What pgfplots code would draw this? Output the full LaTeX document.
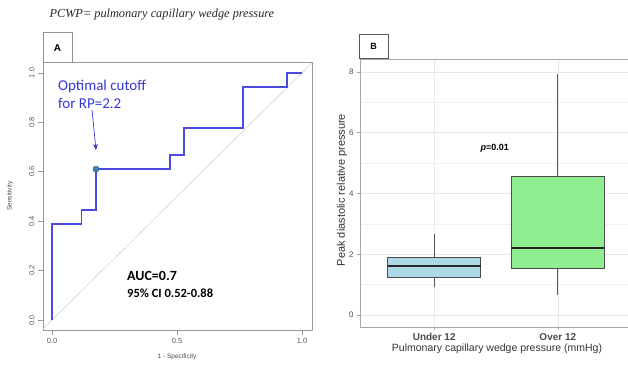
\documentclass[border=0pt]{standalone}
\usepackage{pgfplots}
\pgfplotsset{compat=1.18}
\usepgfplotslibrary{statistics}
\usetikzlibrary{arrows.meta}
\usepackage{fontspec}
\setmainfont{Liberation Sans}
\newfontfamily\calfont{Carlito}
\newfontfamily\timfont{Liberation Serif}
\definecolor{roc}{RGB}{75,75,225}
\definecolor{annot}{RGB}{55,55,215}
\definecolor{ptfill}{RGB}{70,130,180}
\definecolor{lblue}{RGB}{173,216,230}
\definecolor{lgreen}{RGB}{144,238,144}
\definecolor{gridc}{RGB}{232,232,232}
\begin{document}
\begin{tikzpicture}[x=1pt,y=1pt]
\path[use as bounding box] (0,0) rectangle (628,364);
\clip (0,0) rectangle (628,364);
% title
\node[anchor=west,font=\timfont\itshape\fontsize{12.3}{14}\selectfont,text=black!85] at (46,349) {PCWP= pulmonary capillary wedge pressure};
% Panel A
\begin{axis}[at={(43pt,34pt)},anchor=south west,scale only axis,width=269pt,height=267pt,
  xmin=-0.036,xmax=1.04,ymin=-0.04,ymax=1.04,
  xtick={0,0.5,1},xticklabels={0.0,0.5,1.0},
  ytick={0,0.2,0.4,0.6,0.8,1},yticklabels={0.0,0.2,0.4,0.6,0.8,1.0},
  xtick pos=bottom,ytick pos=left,tick align=outside,major tick length=5pt,
  axis line style={gray!80,line width=1pt},
  every tick/.style={gray!80,line width=0.6pt},
  tick label style={font=\fontsize{7.5}{8}\selectfont,text=black!65},
  yticklabel style={rotate=90,anchor=south},
  /pgf/number format/assume math mode=true,
  clip=true]
\addplot[gray!35,line width=0.6pt] coordinates {(-0.05,-0.05) (1.05,1.05)};
\addplot[roc,line width=1.7pt] coordinates {
(0,0) (0,0.389) (0.118,0.389) (0.118,0.444) (0.176,0.444) (0.176,0.611)
(0.471,0.611) (0.471,0.667) (0.529,0.667) (0.529,0.778) (0.765,0.778) (0.765,0.944)
(0.941,0.944) (0.941,1) (1,1)};
\addplot[only marks,mark=*,mark size=3pt,mark options={fill=ptfill,draw=ptfill!70!black,line width=0.5pt}] coordinates {(0.176,0.611)};
\end{axis}
\draw[gray!85,line width=1pt] (43,301) rectangle (72,331);
\node[font=\bfseries\fontsize{10}{11}\selectfont] at (57.5,316) {A};
\node[anchor=west,align=left,font=\calfont\fontsize{15}{18}\selectfont,text=annot,inner sep=0pt] at (58,270) {Optimal cutoff\\for RP=2.2};
\draw[annot,line width=0.7pt,-{Stealth[length=6pt,width=5pt]}] (92,254) -- (96,214);
\node[anchor=west,font=\calfont\bfseries\fontsize{14}{15}\selectfont,inner sep=0pt] at (127,88) {AUC=0.7};
\node[anchor=west,font=\calfont\bfseries\fontsize{12.5}{13}\selectfont,inner sep=0pt] at (127,71) {95\% CI 0.52-0.88};
\node[rotate=90,font=\fontsize{6.5}{7}\selectfont,text=black!70] at (10,168) {Sensitivity};
\node[font=\fontsize{6.5}{7}\selectfont,text=black!70] at (177,7) {1 - Specificity};
% Panel B
\begin{axis}[at={(360pt,37pt)},anchor=south west,scale only axis,width=272pt,height=268pt,
  xmin=0.4,xmax=2.6,ymin=-0.395,ymax=8.43,
  xtick={1,2},xticklabels={Under 12,Over 12},
  ytick={0,2,4,6,8},minor ytick={1,3,5,7},
  grid=both,major grid style={gridc,line width=0.6pt},minor grid style={gridc!60,line width=0.4pt},
  xtick pos=bottom,ytick pos=left,tick align=outside,major tick length=3pt,minor tick length=0pt,
  axis line style={gray!70,line width=0.8pt},
  every tick/.style={gray!70,line width=0.6pt},
  tick label style={font=\fontsize{8}{9}\selectfont,text=black!70},
  xticklabel style={font=\bfseries\fontsize{10}{11}\selectfont,text=black!70},
  /pgf/number format/assume math mode=true,
  boxplot/draw direction=y,
  boxplot/box extend=0.75,boxplot/whisker extend=0]
\addplot[boxplot prepared={draw position=1,lower whisker=0.92,lower quartile=1.24,median=1.63,upper quartile=1.90,upper whisker=2.68,
   every median/.style={line width=2pt,draw=black!85},every box/.style={draw=gray!60!black,fill=lblue,line width=0.7pt},every whisker/.style={draw=gray!70!black,line width=0.7pt}},draw=gray!60!black] coordinates {};
\addplot[boxplot prepared={draw position=2,lower whisker=0.65,lower quartile=1.54,median=2.22,upper quartile=4.58,upper whisker=7.92,
   every median/.style={line width=2pt,draw=black!85},every box/.style={draw=gray!60!black,fill=lgreen,line width=0.7pt},every whisker/.style={draw=gray!70!black,line width=0.7pt}},draw=gray!60!black] coordinates {};
\node[font=\bfseries\fontsize{9}{10}\selectfont] at (axis cs:1.49,5.5) {\textit{p}=0.01};
\end{axis}
\draw[gray!70!black,line width=0.8pt] (359,306) rectangle (388,330);
\node[font=\bfseries\fontsize{9}{10}\selectfont] at (373.5,318) {B};
\node[rotate=90,font=\fontsize{11}{12}\selectfont,text=black!80] at (342,174) {Peak diastolic relative pressure};
\node[font=\fontsize{10.5}{11}\selectfont,text=black!80] at (497,15) {Pulmonary capillary wedge pressure (mmHg)};
\end{tikzpicture}
\end{document}
